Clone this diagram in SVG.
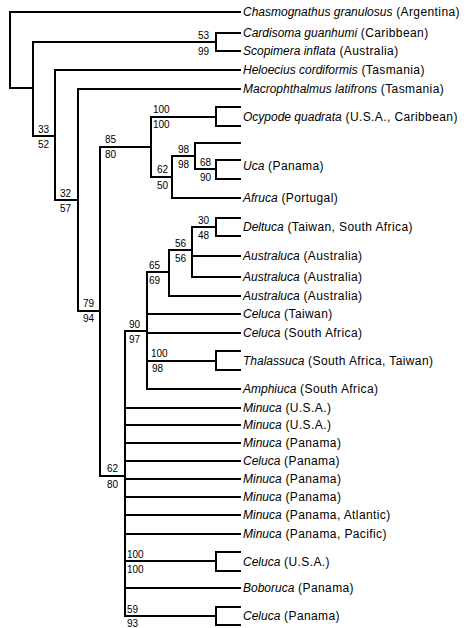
<svg xmlns="http://www.w3.org/2000/svg" width="468" height="628" viewBox="0 0 468 628">
<style>
.c{fill:none;stroke:#000;stroke-width:2;stroke-linecap:square}
.t{font-family:"Liberation Sans",Arial,sans-serif;font-size:12px;fill:#000;letter-spacing:0.4px}
.t .i{font-style:italic;letter-spacing:0}
.s{font-family:"Liberation Sans",Arial,sans-serif;font-size:10px;fill:#000}
</style>
<rect width="468" height="628" fill="#fff"/>
<g id="connectors" class="c">
<path d="M10,12V88M10,12H240M10,88H33"/>
<path d="M33,42V136M33,42H216M33,136H55"/>
<path d="M216,33V51M216,33H240M216,51H240"/>
<path d="M55,70V200M55,70H240M55,200H78"/>
<path d="M78,89V311M78,89H240M78,311H100"/>
<path d="M100,147V476M100,147H151M100,476H125"/>
<path d="M151,117V177M151,117H216M151,177H172"/>
<path d="M216,107V126M216,107H240M216,126H240"/>
<path d="M172,156V198M172,156H195M172,198H240"/>
<path d="M195,143V169M195,143H240M195,169H216"/>
<path d="M216,160V179M216,160H240M216,179H240"/>
<path d="M125,331V616M125,331H147M125,408H240M125,425H240M125,443H240M125,461H240M125,479H240M125,497H240M125,515H240M125,534H240M125,561H216M125,588H240M125,616H216"/>
<path d="M147,272V389M147,272H169M147,314H240M147,333H240M147,361H216M147,389H240"/>
<path d="M169,250V296M169,250H192M169,296H240"/>
<path d="M192,227V277M192,227H216M192,256H240M192,277H240"/>
<path d="M216,218V236M216,218H240M216,236H240"/>
<path d="M216,351V370M216,351H240M216,370H240"/>
<path d="M216,552V571M216,552H240M216,571H240"/>
<path d="M216,607V625M216,607H240M216,625H240"/>
</g>
<g id="n-root"/>
<g id="n-A" class="s"><text x="38" y="133">33</text><text x="38" y="148">52</text></g>
<g id="n-CS" class="s"><text x="198" y="39">53</text><text x="198" y="55">99</text></g>
<g id="n-B" class="s"><text x="60" y="197">32</text><text x="60" y="212">57</text></g>
<g id="n-C" class="s"><text x="83" y="307">79</text><text x="83" y="322">94</text></g>
<g id="n-E" class="s"><text x="105" y="143">85</text><text x="105" y="158">80</text></g>
<g id="n-Ocy" class="s"><text x="153" y="113">100</text><text x="153" y="128">100</text></g>
<g id="n-G" class="s"><text x="157" y="173">62</text><text x="157" y="189">50</text></g>
<g id="n-H" class="s"><text x="178" y="153">98</text><text x="178" y="168">98</text></g>
<g id="n-Uca" class="s"><text x="200" y="166">68</text><text x="200" y="181">90</text></g>
<g id="n-De" class="s"><text x="198" y="224">30</text><text x="198" y="239">48</text></g>
<g id="n-K" class="s"><text x="175" y="247">56</text><text x="175" y="262">56</text></g>
<g id="n-J" class="s"><text x="149" y="269">65</text><text x="149" y="284">69</text></g>
<g id="n-I" class="s"><text x="129" y="328">90</text><text x="129" y="343">97</text></g>
<g id="n-Th" class="s"><text x="151" y="357">100</text><text x="152" y="372">98</text></g>
<g id="n-F" class="s"><text x="107" y="472">62</text><text x="107" y="488">80</text></g>
<g id="n-CU" class="s"><text x="127" y="558">100</text><text x="127" y="573">100</text></g>
<g id="n-CP" class="s"><text x="127" y="613">59</text><text x="127" y="627">93</text></g>
<g id="tip1" class="t"><text x="243" y="16"><tspan class="i">Chasmognathus granulosus</tspan> (Argentina)</text></g>
<g id="tip2" class="t"><text x="243" y="37"><tspan class="i">Cardisoma guanhumi</tspan> (Caribbean)</text></g>
<g id="tip3" class="t"><text x="243" y="55"><tspan class="i">Scopimera inflata</tspan> (Australia)</text></g>
<g id="tip4" class="t"><text x="243" y="74"><tspan class="i">Heloecius cordiformis</tspan> (Tasmania)</text></g>
<g id="tip5" class="t"><text x="243" y="93"><tspan class="i">Macrophthalmus latifrons</tspan> (Tasmania)</text></g>
<g id="tip6" class="t"><text x="243" y="121"><tspan class="i">Ocypode quadrata</tspan> (U.S.A., Caribbean)</text></g>
<g id="tip7" class="t"><text x="243" y="170"><tspan class="i">Uca</tspan> (Panama)</text></g>
<g id="tip8" class="t"><text x="243" y="202"><tspan class="i">Afruca</tspan> (Portugal)</text></g>
<g id="tip9" class="t"><text x="243" y="231"><tspan class="i">Deltuca</tspan> (Taiwan, South Africa)</text></g>
<g id="tip10" class="t"><text x="243" y="260"><tspan class="i">Australuca</tspan> (Australia)</text></g>
<g id="tip11" class="t"><text x="243" y="281"><tspan class="i">Australuca</tspan> (Australia)</text></g>
<g id="tip12" class="t"><text x="243" y="300"><tspan class="i">Australuca</tspan> (Australia)</text></g>
<g id="tip13" class="t"><text x="243" y="318"><tspan class="i">Celuca</tspan> (Taiwan)</text></g>
<g id="tip14" class="t"><text x="243" y="337"><tspan class="i">Celuca</tspan> (South Africa)</text></g>
<g id="tip15" class="t"><text x="243" y="365"><tspan class="i">Thalassuca</tspan> (South Africa, Taiwan)</text></g>
<g id="tip16" class="t"><text x="243" y="393"><tspan class="i">Amphiuca</tspan> (South Africa)</text></g>
<g id="tip17" class="t"><text x="243" y="412"><tspan class="i">Minuca</tspan> (U.S.A.)</text></g>
<g id="tip18" class="t"><text x="243" y="429"><tspan class="i">Minuca</tspan> (U.S.A.)</text></g>
<g id="tip19" class="t"><text x="243" y="447"><tspan class="i">Minuca</tspan> (Panama)</text></g>
<g id="tip20" class="t"><text x="243" y="465"><tspan class="i">Celuca</tspan> (Panama)</text></g>
<g id="tip21" class="t"><text x="243" y="483"><tspan class="i">Minuca</tspan> (Panama)</text></g>
<g id="tip22" class="t"><text x="243" y="501"><tspan class="i">Minuca</tspan> (Panama)</text></g>
<g id="tip23" class="t"><text x="243" y="519"><tspan class="i">Minuca</tspan> (Panama, Atlantic)</text></g>
<g id="tip24" class="t"><text x="243" y="538"><tspan class="i">Minuca</tspan> (Panama, Pacific)</text></g>
<g id="tip25" class="t"><text x="243" y="566"><tspan class="i">Celuca</tspan> (U.S.A.)</text></g>
<g id="tip26" class="t"><text x="243" y="592"><tspan class="i">Boboruca</tspan> (Panama)</text></g>
<g id="tip27" class="t"><text x="243" y="620"><tspan class="i">Celuca</tspan> (Panama)</text></g>
</svg>
